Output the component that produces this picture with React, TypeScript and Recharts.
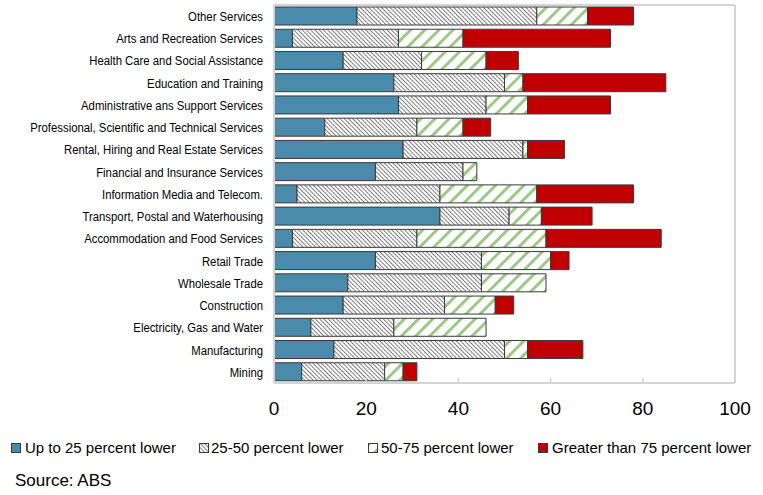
import React from 'react';
import { BarChart, Bar, XAxis, YAxis, ReferenceLine } from 'recharts';

const industries = [
  'Other Services',
  'Arts and Recreation Services',
  'Health Care and Social Assistance',
  'Education and Training',
  'Administrative ans Support Services',
  'Professional, Scientific and Technical Services',
  'Rental, Hiring and Real Estate Services',
  'Financial and Insurance Services',
  'Information Media and Telecom.',
  'Transport, Postal and Waterhousing',
  'Accommodation and Food Services',
  'Retail Trade',
  'Wholesale Trade',
  'Construction',
  'Electricity, Gas and Water',
  'Manufacturing',
  'Mining',
];

// share of businesses in each band
const upTo25 = [18, 4, 15, 26, 27, 11, 28, 22, 5, 36, 4, 22, 16, 15, 8, 13, 6];
const from25to50 = [39, 23, 17, 24, 19, 20, 26, 19, 31, 15, 27, 23, 29, 22, 18, 37, 18];
const from50to75 = [11, 14, 14, 4, 9, 10, 1, 3, 21, 7, 28, 15, 14, 11, 20, 5, 4];
const over75 = [10, 32, 7, 31, 18, 6, 8, 0, 21, 11, 25, 4, 0, 4, 0, 12, 3];

const xTicks = [0, 20, 40, 60, 80, 100];

const data = industries.map((name, i) => ({
  name,
  a: upTo25[i],
  b: from25to50[i],
  c: from50to75[i],
  d: over75[i],
}));

const FONT = "'Liberation Sans', Arial, sans-serif";
const BORDER = '#d4d4d4';
const EDGE = '#3a3a3a';

const series = [
  { key: 'a', name: 'Up to 25 percent lower', fill: '#4a8aab' },
  { key: 'b', name: '25-50 percent lower', fill: 'url(#hatch)' },
  { key: 'c', name: '50-75 percent lower', fill: 'url(#stripe)' },
  { key: 'd', name: 'Greater than 75 percent lower', fill: '#c00000' },
];

// legend swatch / label left edges
const legendBox = [11, 199, 368, 538];
const legendText = [25, 211, 381, 552];

// the source chart uses a narrow face for the category labels
const CategoryTick = (props: any) => {
  const { x, y, payload } = props;
  return (
    <g transform={`translate(${x},${y}) scale(0.84,1)`}>
      <text x={0} y={0} dy="0.36em" textAnchor="end" fill="#000" fontSize={13.5} fontFamily={FONT}>
        {payload.value}
      </text>
    </g>
  );
};

export default function App() {
  return (
    <div style={{ position: 'absolute', left: 0, top: 0, width: 763, height: 495, background: '#fff', fontFamily: FONT }}>
      <BarChart
        width={763}
        height={495}
        data={data}
        layout="vertical"
        margin={{ top: 4, right: 28, left: 0, bottom: 72 }}
        barSize={18}
      >
        <defs>
          <pattern id="hatch" width="3" height="3" patternUnits="userSpaceOnUse" patternTransform="rotate(-45)">
            <rect width="3" height="3" fill="#fff" />
            <line x1="0" y1="0" x2="0" y2="3" stroke="#000" strokeWidth="1.2" strokeDasharray="1.7 0.6" />
          </pattern>
          <pattern id="stripe" width="10" height="10" patternUnits="userSpaceOnUse" patternTransform="rotate(45)">
            <rect width="10" height="10" fill="#fff" />
            <rect x="0" y="0" width="3" height="10" fill="#9cc985" />
          </pattern>
        </defs>
        <XAxis
          type="number"
          domain={[0, 100]}
          ticks={xTicks}
          axisLine={{ stroke: BORDER, strokeWidth: 2 }}
          tickLine={{ stroke: BORDER, strokeWidth: 1.5 }}
          tickSize={-5}
          tickMargin={24}
          height={40}
          tick={{ fill: '#000', fontSize: 19, fontFamily: FONT }}
        />
        <XAxis
          xAxisId="top"
          orientation="top"
          type="number"
          domain={[0, 100]}
          height={1}
          tick={false}
          tickLine={false}
          axisLine={{ stroke: BORDER, strokeWidth: 2 }}
        />
        <YAxis
          type="category"
          dataKey="name"
          width={274}
          axisLine={{ stroke: BORDER, strokeWidth: 2 }}
          tickLine={false}
          tickSize={0}
          tickMargin={11}
          interval={0}
          tick={<CategoryTick />}
        />
        <ReferenceLine x={100} stroke={BORDER} strokeWidth={2} />
        {series.map((s) => (
          <Bar
            key={s.key}
            dataKey={s.key}
            name={s.name}
            stackId="s"
            fill={s.fill}
            stroke={EDGE}
            strokeWidth={1}
            isAnimationActive={false}
          />
        ))}
      </BarChart>
      {series.map((s, i) => (
        <React.Fragment key={s.key}>
          <svg width={10} height={10} style={{ position: 'absolute', left: legendBox[i], top: 443 }}>
            <rect x={0.5} y={0.5} width={9} height={9} fill={s.fill} stroke={EDGE} strokeWidth={1} />
          </svg>
          <div
            style={{
              position: 'absolute',
              left: legendText[i],
              top: 439,
              fontSize: 15,
              lineHeight: '18px',
              color: '#000',
              whiteSpace: 'nowrap',
            }}
          >
            {s.name}
          </div>
        </React.Fragment>
      ))}
      <div style={{ position: 'absolute', left: 15, top: 471, fontSize: 17, lineHeight: '20px', color: '#000' }}>
        Source: ABS
      </div>
    </div>
  );
}
